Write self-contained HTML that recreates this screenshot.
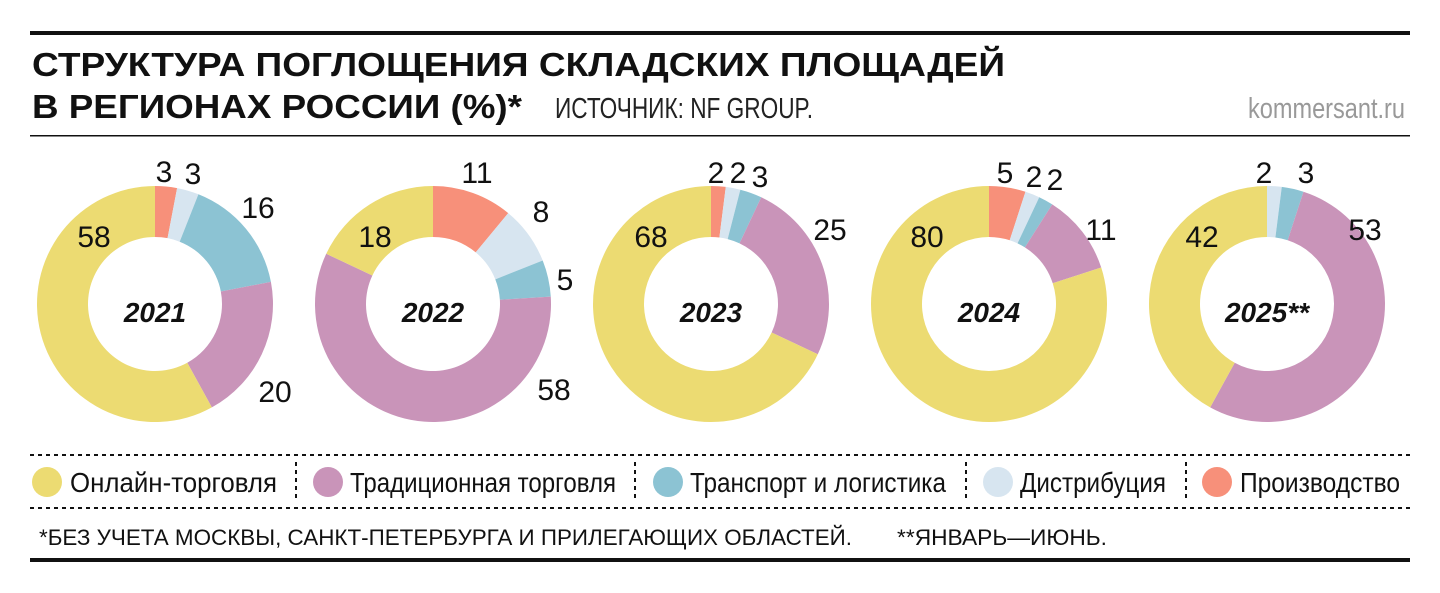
<!DOCTYPE html>
<html><head><meta charset="utf-8"><style>
html,body{margin:0;padding:0;background:#fff;}
svg{display:block;}
text{font-family:"Liberation Sans","DejaVu Sans",sans-serif;}
</style></head><body>
<svg id="s" width="1440" height="593" viewBox="0 0 1440 593" xmlns="http://www.w3.org/2000/svg">
<rect width="1440" height="593" fill="#fff"/>
<rect x="30" y="31" width="1380" height="4" fill="#111"/>
<text x="32" y="76" font-size="33" font-weight="bold" textLength="973" lengthAdjust="spacingAndGlyphs" fill="#111">СТРУКТУРА ПОГЛОЩЕНИЯ СКЛАДСКИХ ПЛОЩАДЕЙ</text>
<text x="32" y="118" font-size="33" font-weight="bold" textLength="490" lengthAdjust="spacingAndGlyphs" fill="#111">В РЕГИОНАХ РОССИИ (%)*</text>
<text x="555" y="118" font-size="29" textLength="258" lengthAdjust="spacingAndGlyphs" fill="#222">ИСТОЧНИК: NF GROUP.</text>
<text x="1248" y="118" font-size="29" textLength="157" lengthAdjust="spacingAndGlyphs" fill="#999">kommersant.ru</text>
<rect x="30" y="135" width="1380" height="1.5" fill="#111"/>
<g id="donuts"></g>
<g id="labels" font-size="30" fill="#111" text-anchor="middle">
<text x="164" y="182">3</text><text x="193" y="184">3</text><text x="258" y="218">16</text><text x="94" y="247">58</text><text x="275" y="402">20</text>
<text x="477" y="183">11</text><text x="541" y="222">8</text><text x="565" y="290">5</text><text x="375" y="247">18</text><text x="554" y="400">58</text>
<text x="716" y="183">2</text><text x="738" y="183">2</text><text x="760" y="187">3</text><text x="830" y="240">25</text><text x="651" y="247">68</text>
<text x="1005" y="183">5</text><text x="1034" y="187">2</text><text x="1055" y="190">2</text><text x="1101" y="240">11</text><text x="927" y="247">80</text>
<text x="1264" y="183">2</text><text x="1306" y="183">3</text><text x="1365" y="240">53</text><text x="1202" y="247">42</text>
</g>
<g font-size="28" font-weight="bold" font-style="italic" fill="#111" text-anchor="middle">
<text x="155" y="322">2021</text><text x="433" y="322">2022</text><text x="711" y="322">2023</text><text x="989" y="322">2024</text><text x="1267" y="322">2025**</text>
</g>
<line x1="30" y1="455" x2="1410" y2="455" stroke="#111" stroke-width="2" stroke-dasharray="4,4"/>
<line x1="30" y1="508" x2="1410" y2="508" stroke="#111" stroke-width="2" stroke-dasharray="4,4"/>
<g stroke="#111" stroke-width="2" stroke-dasharray="4,4">
<line x1="296" y1="462" x2="296" y2="502"/><line x1="635" y1="462" x2="635" y2="502"/><line x1="966" y1="462" x2="966" y2="502"/><line x1="1186" y1="462" x2="1186" y2="502"/>
</g>
<circle cx="47" cy="482" r="15" fill="#ecdb72"/>
<circle cx="328" cy="482" r="15" fill="#c994b9"/>
<circle cx="668" cy="482" r="15" fill="#8cc3d3"/>
<circle cx="998" cy="482" r="15" fill="#d7e5f0"/>
<circle cx="1217" cy="482" r="15" fill="#f7907a"/>
<g font-size="28" fill="#111">
<text x="70" y="492" textLength="207" lengthAdjust="spacingAndGlyphs">Онлайн-торговля</text>
<text x="350" y="492" textLength="266" lengthAdjust="spacingAndGlyphs">Традиционная торговля</text>
<text x="690" y="492" textLength="256" lengthAdjust="spacingAndGlyphs">Транспорт и логистика</text>
<text x="1020" y="492" textLength="146" lengthAdjust="spacingAndGlyphs">Дистрибуция</text>
<text x="1240" y="492" textLength="160" lengthAdjust="spacingAndGlyphs">Производство</text>
</g>
<g font-size="22" fill="#111">
<text x="39" y="545" textLength="813" lengthAdjust="spacingAndGlyphs">*БЕЗ УЧЕТА МОСКВЫ, САНКТ-ПЕТЕРБУРГА И ПРИЛЕГАЮЩИХ ОБЛАСТЕЙ.</text>
<text x="897" y="545" textLength="210" lengthAdjust="spacingAndGlyphs">**ЯНВАРЬ—ИЮНЬ.</text>
</g>
<rect x="30" y="558" width="1380" height="4" fill="#111"/>
</svg>
<script>
var cols=["#f7907a","#d7e5f0","#8cc3d3","#c994b9","#ecdb72"];
var data=[[3,3,16,20,58],[11,8,5,58,18],[2,2,3,25,68],[5,2,2,11,80],[0,2,3,53,42]];
var cxs=[155,433,711,989,1267],cy=304,R=118,r=67;
var g=document.getElementById("donuts"),ns="http://www.w3.org/2000/svg";
function pt(cx,rad,a){return [cx+rad*Math.sin(a),cy-rad*Math.cos(a)];}
data.forEach(function(d,i){
 var tot=d.reduce(function(a,b){return a+b},0),a0=0,cx=cxs[i];
 d.forEach(function(v,j){
  if(!v)return;
  var a1=a0+v/tot*2*Math.PI,l=(a1-a0)>Math.PI?1:0;
  var p1=pt(cx,R,a0),p2=pt(cx,R,a1),p3=pt(cx,r,a1),p4=pt(cx,r,a0);
  var p=document.createElementNS(ns,"path");
  p.setAttribute("d","M"+p1+"A"+R+","+R+" 0 "+l+" 1 "+p2+"L"+p3+"A"+r+","+r+" 0 "+l+" 0 "+p4+"Z");
  p.setAttribute("fill",cols[j]);g.appendChild(p);a0=a1;
 });
});
</script>
</body></html>
